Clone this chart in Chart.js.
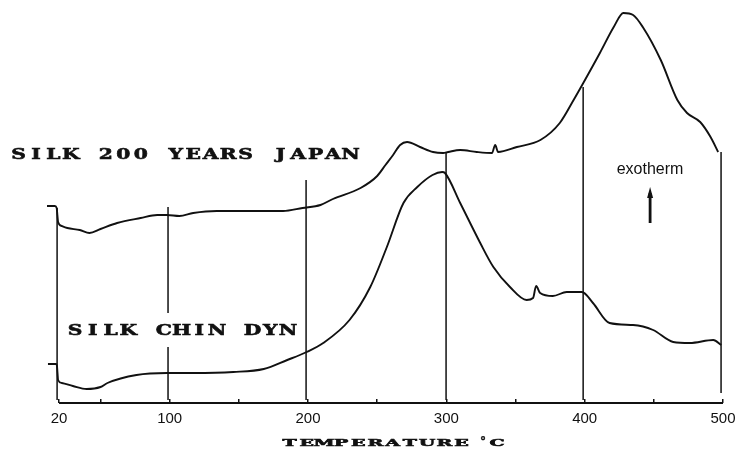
<!DOCTYPE html>
<html>
<head>
<meta charset="utf-8">
<script src="https://cdn.jsdelivr.net/npm/chart.js@4"></script>
<style>
  html, body { margin: 0; padding: 0; background: #fff; }
</style>
</head>
<body>
<canvas id="dta" width="736" height="449"></canvas>
<script>
// DTA traces: temperature (°C) and signal height (arbitrary units above the baseline)
const japanTemp = [11.3, 17, 18.3, 18.8, 19.3, 22, 26, 35, 42, 50, 62, 79, 91, 98, 107, 117, 134, 146, 165, 182,
  196, 209, 218, 238, 250, 256, 261.5, 266.6, 271.6, 281, 290.4, 297.7, 301.3, 310, 322, 333, 335.3, 337.4,
  351, 368, 382, 392, 399, 411, 421, 428, 435, 442, 455, 467, 474, 483.5, 491, 496.5];
const japanSignal = [197, 197, 195, 188, 181, 177, 175, 173, 170, 174, 180, 185, 188, 188, 187, 190, 192, 192, 192, 192,
  195, 198, 204, 215, 227, 238, 248, 258, 261, 256, 251, 250, 251, 253, 251, 250, 258, 251,
  256, 263, 280, 303, 320, 350, 376, 390, 388, 376, 343, 303, 290, 281, 266, 251];

const chinTemp = [12, 18, 18.5, 18.9, 19.3, 22, 30, 40, 50, 55, 76, 98, 117, 146, 168, 185, 199, 211, 230, 245,
  257, 269, 279, 290, 297, 299, 310, 324.5, 334, 346, 358, 362.7, 364.9, 367.8, 377, 387, 398, 406, 418,
  435, 449.5, 464, 476, 493, 498.7];
const chinSignal = [39, 39, 37, 30, 23, 20, 17, 14, 16, 20, 28, 30, 30, 31, 34, 43, 51, 60, 83, 116,
  156, 200, 216, 228, 231, 230, 200, 160, 136, 116, 103, 105, 117, 110, 107, 111, 111, 100, 80,
  78, 73, 61, 60, 63, 58];

// vertical temperature markers drawn on the chart
const markerTemp = [18.6, 98.8, 198.6, 299.8, 398.9, 498.6];
const markerTop = [195, 196, 223, 250, 316, 251];
const markerBottom = [3, 3, 3, 3, 3, 10];

const axisRange = [20, 500];
const tickValues = [20, 50, 100, 150, 200, 250, 300, 350, 400, 450, 500];
const tickLabels = ["20", "", "100", "", "200", "", "300", "", "400", "", "500"];

const ink = "#111";

function trace(temps, values) {
  return temps.map((t, i) => ({ x: t, y: values[i] }));
}

const datasets = [
  { data: trace(japanTemp, japanSignal), borderWidth: 1.9 },
  { data: trace(chinTemp, chinSignal), borderWidth: 1.9 },
  // temperature axis line, only from 20 to 500
  { data: axisRange.map(t => ({ x: t, y: 0 })), borderWidth: 2 }
];
markerTemp.forEach((t, i) => {
  datasets.push({ data: [{ x: t, y: markerTop[i] }, { x: t, y: markerBottom[i] }], borderWidth: 1.5 });
});
datasets.forEach(d => {
  d.borderColor = ink;
  d.pointRadius = 0;
  d.cubicInterpolationMode = "monotone";
  d.clip = false;
});

// typewriter style: fixed pitch, glyphs stretched sideways and inked a bit heavier
function typed(ctx, text, firstCenter, pitch, baseline, sx, weight) {
  ctx.textAlign = "center";
  ctx.textBaseline = "alphabetic";
  [...text].forEach((c, i) => {
    ctx.save();
    ctx.translate(firstCenter + i * pitch, baseline);
    ctx.scale(sx, 1);
    ctx.fillText(c, 0, 0);
    if (weight) {
      ctx.lineWidth = weight;
      ctx.strokeText(c, 0, 0);
    }
    ctx.restore();
  });
}

const annotations = {
  id: "annotations",
  afterDatasetsDraw(chart) {
    const ctx = chart.ctx;
    const xs = chart.scales.x, ys = chart.scales.y;
    ctx.save();
    // label box over the 100 °C line
    ctx.fillStyle = "#fff";
    ctx.fillRect(62, 313, 238, 34);

    ctx.fillStyle = ink;
    ctx.strokeStyle = ink;
    ctx.font = "bold 15px 'DejaVu Serif'";
    typed(ctx, "SILK 200 YEARS JAPAN", 18.5, 17.47, 158.5, 1.35, 0.6);
    typed(ctx, "SILK CHIN DYN", 75, 17.75, 334.5, 1.35, 0.6);

    ctx.font = "bold 10px 'DejaVu Serif'";
    typed(ctx, "TEMPERATURE", 289.5, 17.2, 445.5, 1.9, 0.6);
    typed(ctx, "C", 497, 0, 445.5, 1.9, 0.6);
    ctx.font = "bold 12px 'DejaVu Serif'";
    typed(ctx, "°", 483, 0, 446, 1, 0.4);

    ctx.font = "16px 'Liberation Sans'";
    ctx.textAlign = "center";
    ctx.textBaseline = "middle";
    ctx.fillText("exotherm", 650, 170);

    // exotherm arrow
    const ax = xs.getPixelForValue(447.3);
    const top = ys.getPixelForValue(216);
    const bottom = ys.getPixelForValue(180);
    ctx.lineWidth = 2.8;
    ctx.beginPath();
    ctx.moveTo(ax, bottom);
    ctx.lineTo(ax, top + 6);
    ctx.stroke();
    ctx.beginPath();
    ctx.moveTo(ax, top);
    ctx.lineTo(ax - 3, top + 11);
    ctx.lineTo(ax + 3, top + 11);
    ctx.closePath();
    ctx.fill();
    ctx.restore();
  }
};

new Chart(document.getElementById("dta"), {
  type: "line",
  data: { datasets },
  plugins: [annotations],
  options: {
    responsive: false,
    animation: false,
    devicePixelRatio: 1,
    layout: { padding: { left: 45.2, right: 13, top: 0, bottom: 0 } },
    plugins: { legend: { display: false }, tooltip: { enabled: false } },
    scales: {
      x: {
        type: "linear",
        min: 10,
        max: 500,
        afterBuildTicks: s => { s.ticks = tickValues.map(v => ({ value: v })); },
        afterFit: s => {
          s.height = 46;
          s.paddingLeft = 0;
          s.paddingRight = 0;
        },
        ticks: {
          autoSkip: false,
          maxRotation: 0,
          padding: 11,
          color: ink,
          font: { family: "Liberation Sans", size: 15 },
          callback: v => tickLabels[tickValues.indexOf(v)] ?? ""
        },
        grid: { drawOnChartArea: false, drawTicks: true, tickLength: -4, color: ink, lineWidth: 1.5 },
        border: { display: false }
      },
      y: { type: "linear", min: 0, max: 403, display: false }
    }
  }
});
</script>
</body>
</html>
